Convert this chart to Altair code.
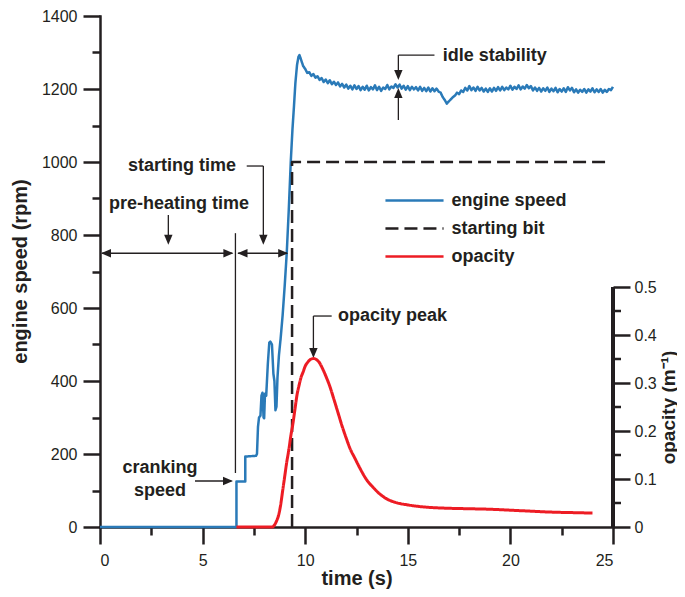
import altair as alt
import pandas as pd

BLUE = "#2a7ab8"
RED = "#ed1c24"
INK = "#231f20"
FONT = "Liberation Sans, Arial, Helvetica, sans-serif"

SERIES = ["engine speed", "starting bit", "opacity"]

# ---------------- engine speed (rpm) ----------------
es_time_start = [0.0, 6.65, 6.65, 7.08, 7.08, 7.6, 7.65, 7.7, 7.75, 7.82, 7.87, 7.92, 7.97,
                 8.0, 8.04, 8.1, 8.18, 8.25, 8.3, 8.38, 8.45, 8.5, 8.55, 8.6, 8.65, 8.72,
                 8.8, 8.9, 9.0, 9.1, 9.2, 9.3, 9.38, 9.45, 9.52, 9.6, 9.67, 9.72]
es_rpm_start = [0, 0, 125, 125, 193, 195, 200, 275, 300, 305, 360, 368, 300,
                298, 365, 360, 448, 505, 508, 500, 420, 400, 320, 330, 410, 470,
                515, 580, 660, 750, 870, 1005, 1090, 1150, 1215, 1265, 1288, 1293]
es_time_idle = [
    9.8, 9.9,
    10.0, 10.1, 10.2, 10.3, 10.4, 10.5, 10.6, 10.7, 10.8, 10.9,
    11.0, 11.1, 11.2, 11.3, 11.4, 11.5, 11.6, 11.7, 11.8, 11.9,
    12.0, 12.1, 12.2, 12.3, 12.4, 12.5, 12.6, 12.7, 12.8, 12.9,
    13.0, 13.1, 13.2, 13.3, 13.4, 13.5, 13.6, 13.7, 13.8, 13.9,
    14.0, 14.1, 14.2, 14.3, 14.4, 14.5, 14.6, 14.7, 14.8, 14.9,
    15.0, 15.1, 15.2, 15.3, 15.4, 15.5, 15.6, 15.7, 15.8, 15.9,
    16.0, 16.1, 16.2, 16.3, 16.4, 16.5, 16.6, 16.7, 16.8, 16.9,
    17.0, 17.1, 17.2, 17.3, 17.4, 17.5, 17.6, 17.7, 17.8, 17.9,
    18.0, 18.1, 18.2, 18.3, 18.4, 18.5, 18.6, 18.7, 18.8, 18.9,
    19.0, 19.1, 19.2, 19.3, 19.4, 19.5, 19.6, 19.7, 19.8, 19.9,
    20.0, 20.1, 20.2, 20.3, 20.4, 20.5, 20.6, 20.7, 20.8, 20.9,
    21.0, 21.1, 21.2, 21.3, 21.4, 21.5, 21.6, 21.7, 21.8, 21.9,
    22.0, 22.1, 22.2, 22.3, 22.4, 22.5, 22.6, 22.7, 22.8, 22.9,
    23.0, 23.1, 23.2, 23.3, 23.4, 23.5, 23.6, 23.7, 23.8, 23.9,
    24.0, 24.1, 24.2, 24.3, 24.4, 24.5, 24.6, 24.7, 24.8, 24.9,
    25.0]
es_rpm_idle = [
    1280, 1263,
    1255, 1244, 1246, 1236, 1241, 1231, 1235, 1225, 1230, 1219,
    1226, 1216, 1224, 1213, 1220, 1211, 1218, 1207, 1214, 1204,
    1212, 1201, 1209, 1199, 1210, 1200, 1208, 1197, 1206, 1198,
    1209, 1196, 1205, 1199, 1210, 1197, 1206, 1195, 1204, 1200,
    1211, 1199, 1207, 1203, 1213, 1204, 1212, 1201, 1209, 1198,
    1208, 1197, 1206, 1199, 1205, 1196, 1206, 1195, 1203, 1194,
    1204, 1193, 1202, 1194, 1201, 1193, 1190, 1178, 1170, 1160,
    1166, 1172, 1178, 1182, 1190, 1186, 1196, 1192, 1203, 1196,
    1208, 1197, 1204, 1195, 1206, 1196, 1203, 1193, 1201, 1192,
    1202, 1193, 1203, 1195, 1205, 1196, 1206, 1197, 1204, 1199,
    1209, 1198, 1206, 1200, 1210, 1199, 1207, 1201, 1211, 1202,
    1208, 1196, 1204, 1195, 1203, 1193, 1202, 1195, 1204, 1192,
    1201, 1194, 1203, 1191, 1200, 1193, 1202, 1192, 1205, 1196,
    1203, 1191, 1199, 1190, 1198, 1192, 1200, 1190, 1199, 1193,
    1202, 1191, 1199, 1192, 1200, 1190, 1198, 1192, 1200, 1197,
    1206]

# ---------------- starting bit (shown on rpm scale) ----------------
sb_time = [9.36, 9.36, 24.8]
sb_rpm = [0, 1000, 1000]

# ---------------- opacity (m^-1) ----------------
op_time = [6.65, 8.4, 8.5, 8.6, 8.7, 8.8, 8.9, 9.0, 9.1, 9.2, 9.3, 9.4, 9.5, 9.6, 9.7,
           9.8, 9.9, 10.0, 10.1, 10.2, 10.3, 10.4, 10.5, 10.6, 10.7, 10.8, 10.9, 11.0,
           11.2, 11.4, 11.6, 11.8, 12.0, 12.2, 12.4, 12.6, 12.8, 13.0,
           13.3, 13.6, 14.0, 14.5, 15.0, 15.5, 16.0,
           17.0, 18.0, 19.0, 20.0, 21.0, 22.0, 23.0, 24.0]
op_val = [0, 0, 0.004, 0.012, 0.024, 0.045, 0.075, 0.105, 0.135, 0.16, 0.19, 0.215, 0.245,
          0.275, 0.295, 0.312, 0.323, 0.335, 0.342, 0.347, 0.35, 0.351, 0.35, 0.347, 0.342,
          0.334, 0.325, 0.315,
          0.293, 0.266, 0.238, 0.21, 0.185, 0.162, 0.145, 0.128, 0.112, 0.098,
          0.083, 0.07, 0.058, 0.05, 0.046, 0.043, 0.041,
          0.039, 0.038, 0.037, 0.035, 0.033, 0.031, 0.03, 0.029]

# ---------------- axes ----------------
x_ticks = [0, 2.5, 5, 7.5, 10, 12.5, 15, 17.5, 20, 22.5, 25]
rpm_ticks = [0, 100, 200, 300, 400, 500, 600, 700, 800, 900, 1000, 1100, 1200, 1300, 1400]
op_ticks = [0, 0.1, 0.2, 0.3, 0.4, 0.5]
op_minor_ticks = [0.05, 0.15, 0.25, 0.35, 0.45]
RPM_MAX = 1400
OP_MAX = 1.0646  # 0.5 m^-1 sits at the height of ~657 rpm

# ---------------- annotations ----------------
note_text = ["idle stability", "opacity peak", "starting time", "pre-heating time", "cranking", "speed"]
note_time = [16.7, 11.6, 4.0, 3.85, 2.92, 2.92]
note_rpm = [1290, 578, 989, 885, 162, 99]
note_align = ["left", "left", "center", "center", "center", "center"]

lead_time = [14.54, 14.54, 14.54, 7.15, 7.96, 3.33, 0.1, 6.72, 6.6, 4.63, 10.4, 10.4]
lead_time2 = [16.3, 14.54, 14.54, 7.96, 7.96, 3.33, 6.45, 9.12, 6.6, 6.4, 11.29, 10.4]
lead_rpm = [1293, 1293, 1115, 989, 989, 855, 750, 750, 805, 126, 578, 578]
lead_rpm2 = [1293, 1236, 1192, 989, 786, 786, 750, 750, 148, 126, 578, 476]

head_time = [14.54, 14.54, 7.96, 3.33, 0.05, 6.5, 6.7, 9.17, 6.48, 10.4]
head_rpm = [1225, 1203, 773, 773, 750, 750, 750, 750, 126, 463]
head_dir = ["down", "up", "down", "down", "left", "right", "left", "right", "right", "down"]
HEAD_PATH = {
    "down": "M0,0L-0.42,-1L0.42,-1Z",
    "up": "M0,0L-0.42,1L0.42,1Z",
    "left": "M0,0L1,-0.42L1,0.42Z",
    "right": "M0,0L-1,-0.42L-1,0.42Z",
}

# ---------------- tables ----------------
es_time = es_time_start + es_time_idle
es_rpm = es_rpm_start + es_rpm_idle
speed_df = pd.DataFrame({
    "time": es_time + sb_time,
    "value": es_rpm + sb_rpm,
    "series": ["engine speed"] * len(es_time) + ["starting bit"] * len(sb_time),
    "idx": list(range(len(es_time))) + list(range(len(sb_time))),
})
op_df = pd.DataFrame({"time": op_time, "op": op_val, "series": ["opacity"] * len(op_time),
                      "idx": list(range(len(op_time)))})
op_minor_df = pd.DataFrame({"op": op_minor_ticks})
note_df = pd.DataFrame({"time": note_time, "value": note_rpm, "text": note_text, "align": note_align})
lead_df = pd.DataFrame({"time": lead_time, "time2": lead_time2, "value": lead_rpm, "value2": lead_rpm2})
head_df = pd.DataFrame({"time": head_time, "value": head_rpm,
                        "path": [HEAD_PATH[d] for d in head_dir]})

# ---------------- encodings ----------------
XSCALE = alt.Scale(domain=[0, 25], nice=False, zero=False)
XAXIS = alt.Axis(
    values=x_ticks,
    labelExpr="datum.value % 5 === 0 ? datum.label : ''",
    tickSize={"condition": {"test": "datum.value % 5 === 0", "value": 17}, "value": 8},
    labelPadding=8,
    titleBaseline="middle",
    titleY=51,
)
YSCALE = alt.Scale(domain=[0, RPM_MAX], nice=False, zero=True)
YAXIS = alt.Axis(
    values=rpm_ticks,
    format="d",
    labelExpr="datum.value % 200 === 0 ? datum.label : ''",
    tickSize={"condition": {"test": "datum.value % 200 === 0", "value": 17}, "value": 8},
    labelPadding=6,
    titleAngle=270,
    titleAlign="center",
    titleBaseline="middle",
    titleX=-80,
    titleY=255,
)
OSCALE = alt.Scale(domain=[0, OP_MAX], nice=False, zero=True)
OAXIS = alt.Axis(
    orient="right",
    values=op_ticks,
    format=".1~f",
    tickSize=17,
    labelPadding=4,
    domain=False,
    title="opacity (m⁻¹)",
    titleFontSize=19,
    titleAngle=270,
    titleAlign="center",
    titleBaseline="middle",
    titleX=55,
    titleY=391,
)


def xenc(field="time"):
    return alt.X(f"{field}:Q", scale=XSCALE, axis=XAXIS, title="time (s)")


def yenc(field="value"):
    return alt.Y(f"{field}:Q", scale=YSCALE, axis=YAXIS, title="engine speed (rpm)")


# long line sample drawn with a custom path so rows stay close together
LEGEND = alt.Legend(
    orient="none", legendX=295.5, legendY=165.5, title=None,
    symbolType="M-1.66,0L1.66,0", symbolSize=1225, symbolStrokeWidth=2.5,
    labelFont=FONT, labelFontSize=18, labelFontWeight="bold", labelColor=INK,
    labelOffset=18, rowPadding=0, padding=0,
)
color_enc = alt.Color("series:N", scale=alt.Scale(domain=SERIES, range=[BLUE, INK, RED]),
                      legend=LEGEND)
dash_enc = alt.StrokeDash("series:N",
                          scale=alt.Scale(domain=SERIES, range=[[1, 0], [13, 6], [1, 0]]),
                          legend=LEGEND)

speed_lines = alt.Chart(speed_df).mark_line(strokeWidth=2.5, strokeJoin="round").encode(
    x=xenc(), y=yenc(), color=color_enc, strokeDash=dash_enc,
    detail="series:N", order="idx:Q",
)

leads = alt.Chart(lead_df).mark_rule(color=INK, strokeWidth=1.3).encode(
    x=xenc(), x2="time2:Q", y=yenc(), y2="value2:Q",
)

heads = alt.Chart(head_df).mark_point(filled=True, color=INK, opacity=1, size=400,
                                      strokeWidth=0).encode(
    x=xenc(), y=yenc(), shape=alt.Shape("path:N", scale=None),
)

text_left = alt.Chart(note_df).transform_filter("datum.align === 'left'").mark_text(
    font=FONT, fontSize=18, fontWeight="bold", color=INK, align="left", baseline="middle",
).encode(x=xenc(), y=yenc(), text="text:N")

text_center = alt.Chart(note_df).transform_filter("datum.align === 'center'").mark_text(
    font=FONT, fontSize=18, fontWeight="bold", color=INK, align="center", baseline="middle",
).encode(x=xenc(), y=yenc(), text="text:N")

rpm_layer = alt.layer(speed_lines, leads, heads, text_left, text_center)

op_line = alt.Chart(op_df).mark_line(strokeWidth=3, interpolate="monotone").encode(
    x=xenc(),
    y=alt.Y("op:Q", scale=OSCALE, axis=OAXIS),
    color=color_enc, strokeDash=dash_enc, order="idx:Q",
)
op_domain = alt.Chart(op_df).mark_rule(color=INK, strokeWidth=2.5).encode(
    x=alt.X(datum=25, scale=XSCALE),
    y=alt.Y(datum=0, scale=OSCALE),
    y2=alt.Y2(datum=0.5),
)
op_minor = alt.Chart(op_minor_df).mark_rule(color=INK, strokeWidth=2.5, x2Offset=8).encode(
    x=alt.X(datum=25, scale=XSCALE),
    x2=alt.X2(datum=25),
    y=alt.Y("op:Q", scale=OSCALE),
)
op_layer = alt.layer(op_line, op_domain, op_minor)

chart = alt.layer(rpm_layer, op_layer).resolve_scale(y="independent").properties(
    width=513, height=511,
    autosize=alt.AutoSizeParams(type="none"),
    padding={"left": 92, "top": 8, "right": 64, "bottom": 62},
).configure_view(stroke=None).configure_axis(
    grid=False,
    domainColor=INK, domainWidth=2.5, domainCap="square",
    tickColor=INK, tickWidth=2.5,
    labelFont=FONT, labelFontSize=16, labelColor=INK,
    titleFont=FONT, titleFontSize=20, titleFontWeight="bold", titleColor=INK,
)

chart.save("out.html", embed_options={"renderer": "svg", "actions": False})
